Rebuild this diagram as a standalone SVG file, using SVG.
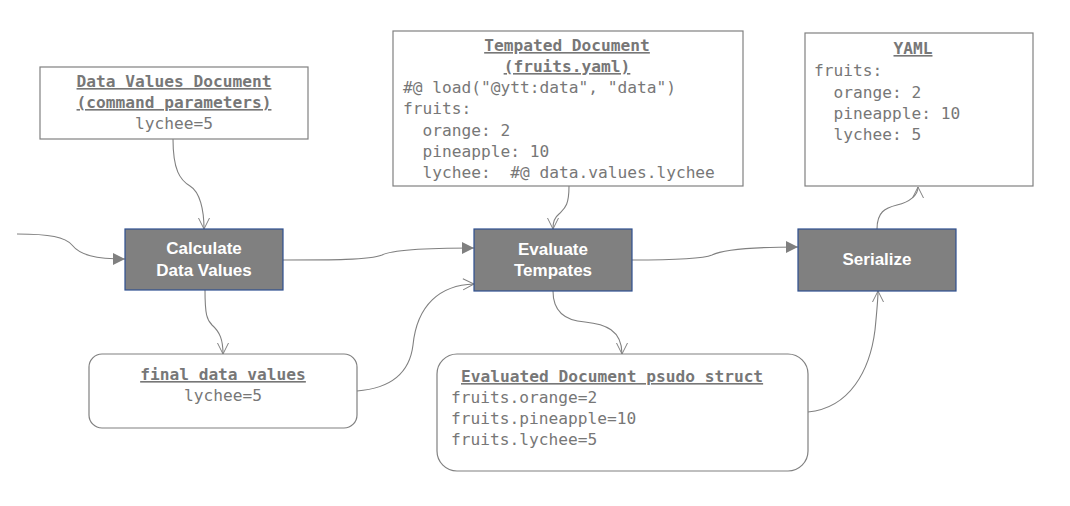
<svg xmlns="http://www.w3.org/2000/svg" width="1070" height="506" viewBox="0 0 1070 506">
<defs>
<marker id="fill" markerUnits="userSpaceOnUse" markerWidth="12" markerHeight="12" viewBox="0 0 12 12" refX="12" refY="6" orient="auto">
<path d="M0,0 L12,6 L0,12 z" fill="#808080"/>
</marker>
<marker id="open" markerUnits="userSpaceOnUse" markerWidth="14" markerHeight="14" viewBox="0 0 14 14" refX="12" refY="7" orient="auto">
<path d="M1,1.5 L12,7 L1,12.5" fill="none" stroke="#808080" stroke-width="1"/>
</marker>
<style>
.doc{fill:#fff;stroke:#808080;stroke-width:1.2}
.proc{fill:#808080;stroke:#2e4f8f;stroke-width:1.2}
.pt{font-family:"Liberation Sans",Arial,sans-serif;font-weight:bold;font-size:17px;fill:#fff;text-anchor:middle}
.m{font-family:"DejaVu Sans Mono","Liberation Mono",monospace;font-size:16.2px;fill:#777}
.t{font-weight:bold;text-decoration:underline}
.c{text-anchor:middle}
.e{fill:none;stroke:#808080;stroke-width:1.1}
</style>
</defs>
<g id="connectors">
<path class="e" d="M17,234 C50,234 65,237 72,245 C80,255 95,259 125,259" marker-end="url(#fill)"/>
<path class="e" d="M173,139 C173,170 180,180 190,186 C200,192 204,210 204,229" marker-end="url(#open)"/>
<path class="e" d="M283,260 C330,260 370,260 382,255 C392,250 420,248 474,248" marker-end="url(#fill)"/>
<path class="e" d="M569,186 C569,205 565,208 560,213 C554,218 553,222 553,229" marker-end="url(#open)"/>
<path class="e" d="M632,260 C680,260 705,258 712,255 C720,251 740,247 798,247" marker-end="url(#fill)"/>
<path class="e" d="M877,229 C877,212 885,208 897,205 C910,202 918,195 918,187" marker-end="url(#open)"/>
<path class="e" d="M205,290 C205,315 207,320 212,325 C220,332 223,340 223,354" marker-end="url(#open)"/>
<path class="e" d="M357,391 C395,388 410,370 413,345 C417,305 440,285 474,284" marker-end="url(#open)"/>
<path class="e" d="M553,291 C553,315 570,321 585,322 C605,324 622,330 622,354" marker-end="url(#open)"/>
<path class="e" d="M808,412 C850,408 870,370 875,330 C877,310 878,300 878,291" marker-end="url(#open)"/>
</g>
<g id="data-values-doc">
<rect class="doc" x="40" y="67" width="268" height="72"/>
<text class="m t c" x="174" y="87">Data Values Document</text>
<text class="m t c" x="174" y="108">(command parameters)</text>
<text class="m c" x="174" y="129">lychee=5</text>
</g>
<g id="calculate">
<rect class="proc" x="125" y="229" width="158" height="61"/>
<text class="pt" x="204" y="254">Calculate</text>
<text class="pt" x="204" y="276">Data Values</text>
</g>
<g id="templated-doc">
<rect class="doc" x="393" y="31" width="350" height="155"/>
<text class="m t c" x="567" y="51">Tempated Document</text>
<text class="m t c" x="567" y="72">(fruits.yaml)</text>
<text class="m" x="403" y="93" xml:space="preserve">#@ load("@ytt:data", "data")</text>
<text class="m" x="403" y="114" xml:space="preserve">fruits:</text>
<text class="m" x="403" y="136" xml:space="preserve">  orange: 2</text>
<text class="m" x="403" y="157" xml:space="preserve">  pineapple: 10</text>
<text class="m" x="403" y="178" xml:space="preserve">  lychee:  #@ data.values.lychee</text>
</g>
<g id="evaluate">
<rect class="proc" x="474" y="229" width="158" height="62"/>
<text class="pt" x="553" y="255">Evaluate</text>
<text class="pt" x="553" y="276">Tempates</text>
</g>
<g id="yaml">
<rect class="doc" x="805" y="33" width="228" height="153"/>
<text class="m t c" x="913" y="54">YAML</text>
<text class="m" x="814" y="76" xml:space="preserve">fruits:</text>
<text class="m" x="814" y="98" xml:space="preserve">  orange: 2</text>
<text class="m" x="814" y="119" xml:space="preserve">  pineapple: 10</text>
<text class="m" x="814" y="140" xml:space="preserve">  lychee: 5</text>
</g>
<g id="serialize">
<rect class="proc" x="798" y="229" width="158" height="62"/>
<text class="pt" x="877" y="265">Serialize</text>
</g>
<g id="final-data-values">
<rect class="doc" x="89" y="354" width="268" height="74" rx="13"/>
<text class="m t c" x="223" y="380">final data values</text>
<text class="m c" x="223" y="401">lychee=5</text>
</g>
<g id="evaluated-doc">
<rect class="doc" x="437" y="354" width="371" height="117" rx="20"/>
<text class="m t" x="461" y="382">Evaluated Document psudo struct</text>
<text class="m" x="451" y="403">fruits.orange=2</text>
<text class="m" x="451" y="424">fruits.pineapple=10</text>
<text class="m" x="451" y="445">fruits.lychee=5</text>
</g>
</svg>
